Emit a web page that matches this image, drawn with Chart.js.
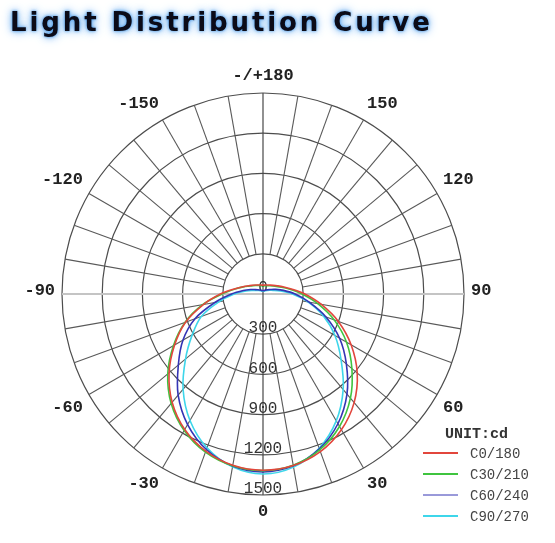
<!DOCTYPE html>
<html>
<head>
<meta charset="utf-8">
<title>Light Distribution Curve</title>
<script src="https://cdn.jsdelivr.net/npm/chart.js@4.4.0/dist/chart.umd.min.js"></script>
<style>
  html, body { margin: 0; padding: 0; background: #fff; }
  #wrap { position: relative; width: 555px; height: 543px; overflow: hidden; }
  canvas { position: absolute; left: 0; top: 0; }
  #title {
    position: absolute; left: 10px; top: 6px; margin: 0;
    font: bold 26px "DejaVu Sans", sans-serif; letter-spacing: 2.9px;
    color: #0b0b18; white-space: nowrap; line-height: 32px;
    text-shadow: 0 0 3px #3d8fe0, 0 0 7px #6fb0f0, 0 0 12px #a8d0f8;
  }
</style>
</head>
<body>
<div id="wrap">
  <canvas id="polarChart" width="555" height="543"></canvas>
  <h1 id="title">Light Distribution Curve</h1>
</div>
<script>
// gamma angle of each reading, deg (0 = straight down, 180 = straight up)
const gammaAngles = [0, 10, 20, 30, 40, 50, 60, 70, 80, 90, 100, 110, 120, 130, 140, 150, 160, 170, 180];

// luminous intensity in cd, one array per C-plane (right half / left half)
const c0   = [1315, 1300, 1252, 1170, 1058, 918, 760, 598, 440, 312, 215, 158, 122, 100, 86, 77, 71, 68, 66];
const c180 = [1315, 1298, 1248, 1168, 1055, 915, 762, 615, 452, 318, 218, 160, 124, 101, 87, 78, 72, 68, 66];
const c30  = [1318, 1297, 1238, 1142, 1015, 866, 720, 565, 415, 292, 204, 148, 114, 93, 80, 71, 65, 62, 60];
const c210 = [1318, 1302, 1256, 1176, 1066, 928, 772, 620, 458, 305, 212, 155, 118, 97, 83, 74, 67, 63, 60];
const c60  = [1328, 1302, 1230, 1118, 975, 812, 660, 500, 350, 240, 155, 100, 68, 50, 40, 33, 28, 26, 24];
const c240 = [1328, 1304, 1235, 1125, 985, 825, 690, 540, 365, 235, 150, 98, 66, 49, 39, 33, 28, 26, 24];
const c90  = [1343, 1312, 1225, 1093, 931, 760, 620, 480, 340, 220, 130, 80, 55, 40, 32, 27, 24, 22, 21];
const c270 = [1343, 1310, 1222, 1090, 928, 755, 610, 490, 335, 215, 128, 78, 54, 40, 32, 27, 24, 22, 21];

const seriesNames  = ['C0/180', 'C30/210', 'C60/240', 'C90/270'];
const seriesColors = ['#e2463c', '#3fc43f', '#3434b4', '#3ed6ea'];

const radialTicks = [0, 300, 600, 900, 1200, 1500];
const angleMarks  = [0, 30, 60, 90, 120, 150, 180, -150, -120, -90, -60, -30];
const angleMarkText = ['0', '30', '60', '90', '120', '150', '-/+180', '-150', '-120', '-90', '-60', '-30'];

// radar goes clockwise starting at the bottom: 0, -10 ... -170, 180, 170 ... 10
const radarLabels = [];
for (let i = 0; i < 18; i++) radarLabels.push(i === 0 ? 0 : -gammaAngles[i]);
radarLabels.push(180);
for (let i = 17; i >= 1; i--) radarLabels.push(gammaAngles[i]);

function joinPlanes(right, left) {
  const out = left.slice(0, 19);
  for (let i = 17; i >= 1; i--) out.push(right[i]);
  return out;
}
const planes = [[c0, c180], [c30, c210], [c60, c240], [c90, c270]];

const polarFrame = {
  id: 'polarFrame',
  beforeDatasetsDraw(chart) {
    const ctx = chart.ctx, r = chart.scales.r;
    const maxV = radialTicks[radialTicks.length - 1];
    ctx.save();
    // spokes every 10 deg, only outside the 300 cd ring
    ctx.strokeStyle = '#595959';
    ctx.lineWidth = 1.1;
    radarLabels.forEach((a, i) => {
      if (a === 90 || a === -90 || a === 0 || a === 180) return;
      const p0 = r.getPointPositionForValue(i, radialTicks[1]);
      const p1 = r.getPointPositionForValue(i, maxV);
      ctx.beginPath(); ctx.moveTo(p0.x, p0.y); ctx.lineTo(p1.x, p1.y); ctx.stroke();
    });
    // horizontal axis, light grey
    const pl = r.getPointPositionForValue(radarLabels.indexOf(-90), maxV);
    const pr = r.getPointPositionForValue(radarLabels.indexOf(90), maxV);
    ctx.strokeStyle = '#c4c4c4';
    ctx.lineWidth = 2;
    ctx.beginPath(); ctx.moveTo(pl.x, pl.y); ctx.lineTo(pr.x, pr.y); ctx.stroke();
    // vertical axis through the centre
    const pt = r.getPointPositionForValue(radarLabels.indexOf(180), maxV);
    const pb = r.getPointPositionForValue(0, maxV);
    ctx.strokeStyle = '#474747';
    ctx.lineWidth = 1.2;
    ctx.beginPath(); ctx.moveTo(pt.x, pt.y); ctx.lineTo(pb.x, pb.y); ctx.stroke();

    // intensity labels along the downward axis
    ctx.fillStyle = '#333';
    ctx.font = '16px "Liberation Mono", monospace';
    ctx.textAlign = 'center';
    ctx.textBaseline = 'middle';
    radialTicks.forEach(v => {
      const p = r.getPointPositionForValue(0, v);
      ctx.fillText(String(v), p.x, p.y - 6);
    });

    // angle labels: anchored just outside the outer ring, aligned away from the centre
    ctx.font = 'bold 17px "Liberation Mono", monospace';
    ctx.fillStyle = '#222';
    const dist = r.getDistanceFromCenterForValue(1552);
    angleMarks.forEach((a, k) => {
      const rad = a * Math.PI / 180;
      const s = Math.sin(rad), c = Math.cos(rad);
      const x = r.xCenter + dist * s, y = r.yCenter + dist * c;
      ctx.textAlign = Math.abs(s) < 0.01 ? 'center' : (s > 0 ? 'left' : 'right');
      const dy = Math.abs(c) < 0.01 ? -3 : (c > 0 ? 10 : -10);
      ctx.fillText(angleMarkText[k], x, y + dy);
    });
    ctx.restore();
  },
  afterDraw(chart) {
    const ctx = chart.ctx;
    ctx.save();
    ctx.textAlign = 'left';
    ctx.textBaseline = 'middle';
    ctx.fillStyle = '#333';
    ctx.font = 'bold 15px "Liberation Mono", monospace';
    ctx.fillText('UNIT:cd', 445, 434);
    ctx.font = '14px "Liberation Mono", monospace';
    seriesNames.forEach((name, i) => {
      const y = 453 + i * 21;
      ctx.strokeStyle = seriesColors[i];
      ctx.lineWidth = i === 2 ? 1 : 2;
      ctx.beginPath(); ctx.moveTo(423, y); ctx.lineTo(458, y); ctx.stroke();
      ctx.fillStyle = '#444';
      ctx.fillText(name, 470, y + 1);
    });
    ctx.restore();
  }
};

const chart = new Chart(document.getElementById('polarChart').getContext('2d'), {
  type: 'radar',
  data: {
    labels: radarLabels,
    datasets: planes.map((p, i) => ({
      label: seriesNames[i],
      data: joinPlanes(p[0], p[1]),
      borderColor: seriesColors[i],
      borderWidth: 1.6,
      pointRadius: 0,
      fill: false,
      tension: 0.3
    }))
  },
  options: {
    responsive: false,
    animation: false,
    layout: { padding: { left: 62, right: 91, top: 93, bottom: 48 } },
    plugins: { legend: { display: false }, tooltip: { enabled: false }, title: { display: false } },
    scales: {
      r: {
        min: 0,
        max: 1500,
        startAngle: 180,
        ticks: { display: false, stepSize: 300 },
        grid: { circular: true, color: '#4d4d4d', lineWidth: 1.2 },
        angleLines: { display: false },
        pointLabels: { display: false }
      }
    }
  },
  plugins: [polarFrame]
});
</script>
</body>
</html>
